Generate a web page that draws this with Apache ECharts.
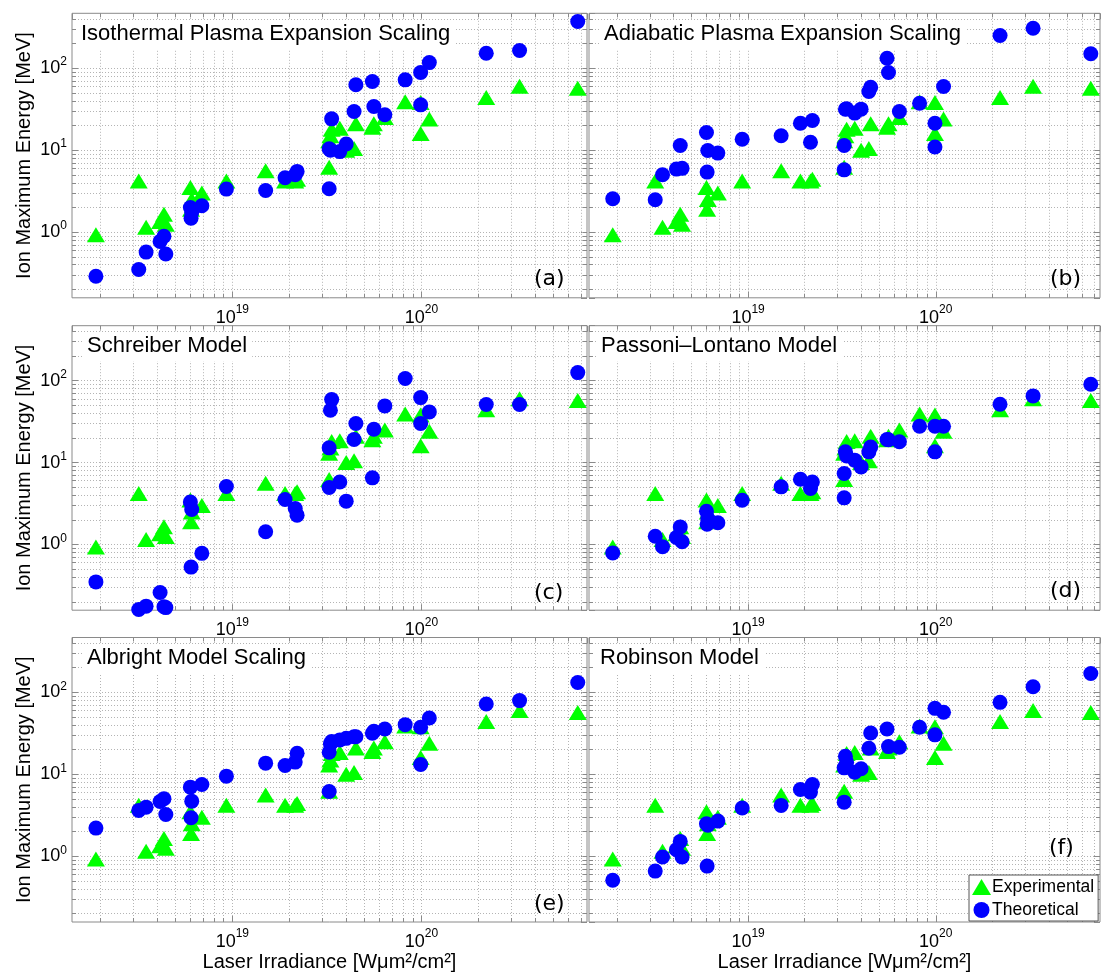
<!DOCTYPE html>
<html><head><meta charset="utf-8">
<script src="https://cdn.jsdelivr.net/npm/echarts@6/dist/echarts.min.js"></script>
<style>html,body{margin:0;padding:0;background:#fff}#c{width:1104px;height:977px}</style>
</head><body><div id="c"></div>
<script>
// ---- data ----
const irradiance = [1.9e18, 3.2e18, 3.5e18, 4.15e18, 4.35e18, 4.45e18, 6.0e18, 6.1e18, 6.05e18, 6.9e18,
  9.3e18, 1.5e19, 1.9e19, 2.15e19, 2.2e19, 3.25e19, 3.25e19, 3.3e19, 3.35e19, 3.7e19,
  4.0e19, 4.4e19, 4.5e19, 5.5e19, 5.6e19, 6.4e19, 8.2e19, 9.9e19, 9.9e19, 1.1e20,
  2.2e20, 3.3e20, 6.7e20];
const experimental = [0.93, 4.2, 1.15, 1.35, 1.65, 1.25, 3.5, 2.5, 1.9, 3.0,
  4.2, 5.6, 4.2, 4.2, 4.4, 6.2, 13, 15, 18, 18.5,
  10, 10.5, 21, 19, 21, 25, 39, 38, 16, 24,
  44, 60, 57];
const isothermal = [0.29, 0.35, 0.57, 0.77, 0.89, 0.54, 2.0, 1.75, 1.48, 2.1,
  3.35, 3.22, 4.6, 5.0, 5.5, 3.38, 10.4, 10.0, 24.1, 9.6,
  11.9, 29.6, 62.7, 68.8, 34.1, 27, 72, 88.5, 35.7, 117,
  152, 164, 371];
const adiabatic = [2.55, 2.48, 5.0, 5.87, 11.4, 6.0, 16.4, 9.9, 5.4, 9.2,
  13.6, 15.0, 21.3, 12.5, 23, 5.75, 11.4, 31.5, 31.9, 28.3,
  31.6, 51.9, 58.6, 132, 88.5, 29.6, 37.4, 21.3, 10.9, 59.7,
  250, 307, 150];
const schreiber = [0.35, 0.161, 0.177, 0.26, 0.174, 0.17, 3.3, 2.67, 0.53, 0.78,
  5.1, 1.43, 3.54, 2.75, 2.28, 4.96, 15.1, 43.5, 58.6, 5.8,
  3.38, 19.1, 29.9, 6.5, 25.5, 49.1, 106, 62, 29.9, 41.5,
  51, 51, 125];
const passoniLontano = [0.79, 1.26, 0.94, 1.22, 1.64, 1.08, 2.55, 2.07, 1.77, 1.84,
  3.47, 5.05, 6.26, 4.82, 5.8, 3.71, 7.34, 13.5, 12, 10.7,
  8.85, 13.5, 15.5, 19.1, 19, 17.9, 27.7, 27.7, 13.5, 27.7,
  51.4, 65, 90];
const albright = [2.21, 3.63, 3.98, 4.67, 5.03, 3.24, 6.98, 4.71, 2.96, 7.52,
  9.5, 13.7, 12.8, 14.1, 18.1, 6.18, 18.6, 23.5, 25.1, 26.3,
  27.5, 28.8, 28.8, 31.7, 33.5, 35.8, 40.4, 37.5, 13.2, 48.7,
  72.1, 79.3, 132];
const robinson = [0.51, 0.66, 0.98, 1.2, 1.52, 0.98, 2.5, 2.4, 0.76, 2.69,
  3.88, 4.18, 6.54, 6.07, 7.52, 4.58, 12, 16.6, 14, 10.6,
  11.7, 20.8, 32, 35.8, 21.8, 21.4, 37.5, 63.8, 30.3, 57.1,
  75.5, 117, 170];
const panelTitles = ['Isothermal Plasma Expansion Scaling', 'Adiabatic Plasma Expansion Scaling',
  'Schreiber Model', 'Passoni\u2013Lontano Model', 'Albright Model Scaling', 'Robinson Model'];
const panelLetters = ['(a)', '(b)', '(c)', '(d)', '(e)', '(f)'];
const theoretical = [isothermal, adiabatic, schreiber, passoniLontano, albright, robinson];
const seriesNames = ['Experimental', 'Theoretical'];
const xAxisTitle = 'Laser Irradiance [W\u03bcm\u00b2/cm\u00b2]';
const yAxisTitle = 'Ion Maximum Energy [MeV]';

// ---- layout ----
const xMin = 1.42e18, xMax = 7.5e20, yMin = 0.158, yMax = 467;
const gridLeft = [72, 589], gridWidth = [515, 511], gridTop = [13.3, 325.7, 637.5], gridHeight = 284.5;
const titlePos = [[76, 20], [599, 20], [82, 332], [596, 332], [82, 644], [595, 644]];
const letterPos = [[534, 268], [1050, 268], [534, 582], [1050, 580], [534, 893], [1049, 837]];

const FONT = 'Liberation Sans';
const GRIDC = '#b4b4b4', AXC = '#8a8a8a';

function powLabel(v) {
  const l = Math.log10(v), e = Math.round(l);
  if (Math.abs(l - e) > 1e-6) return '';
  return '{b|10}{s|' + e + '}';
}
const richX = {
  b: { fontSize: 18, lineHeight: 28, fontFamily: FONT, color: '#000' },
  s: { fontSize: 12, lineHeight: 13, fontFamily: FONT, color: '#000', verticalAlign: 'top' }
};
const richY = {
  b: { fontSize: 18, lineHeight: 24, fontFamily: FONT, color: '#000' },
  s: { fontSize: 12, lineHeight: 13, fontFamily: FONT, color: '#000', verticalAlign: 'top' }
};

// grid-line / minor-tick positions (1..9 per decade)
const xGrid = [], yGrid = [];
for (let e = 18; e <= 20; e++) for (let m = 1; m <= 9; m++) { const v = m * Math.pow(10, e); if (v > xMin * 1.01 && v < xMax * 0.99) xGrid.push(v); }
for (let e = -1; e <= 2; e++) for (let m = 1; m <= 9; m++) { const v = m * Math.pow(10, e); if (v > yMin * 1.01 && v < yMax * 0.99) yGrid.push(v); }
// minor tick length expressed as a factor along each log axis (~4 px)
const fy = Math.pow(10, 4 / 82), fx = Math.pow(10, 4 / 189);
const minorTicks = [];
xGrid.forEach(v => {
  minorTicks.push([{ coord: [v, yMin] }, { coord: [v, yMin * fy] }]);
  minorTicks.push([{ coord: [v, yMax] }, { coord: [v, yMax / fy] }]);
});
yGrid.forEach(v => {
  minorTicks.push([{ coord: [xMin, v] }, { coord: [xMin * fx, v] }]);
  minorTicks.push([{ coord: [xMax, v] }, { coord: [xMax / fx, v] }]);
});

const grids = [], xAxes = [], yAxes = [], series = [], titles = [];
for (let p = 0; p < 6; p++) {
  const row = Math.floor(p / 2), col = p % 2;
  grids.push({ left: gridLeft[col], top: gridTop[row], width: gridWidth[col], height: gridHeight,
    show: true, borderColor: AXC, borderWidth: 1, backgroundColor: 'transparent' });
  const tickBase = { show: true, inside: true, length: 6, lineStyle: { color: AXC } };
  xAxes.push({ type: 'log', logBase: 10, gridIndex: p, min: xMin, max: xMax, position: 'bottom',
    axisLine: { show: false }, axisTick: tickBase, splitLine: { show: false },
    axisLabel: { formatter: powLabel, rich: richX, margin: 6, showMinLabel: false, showMaxLabel: false },
    name: row === 2 ? xAxisTitle : '', nameLocation: 'middle', nameGap: 30,
    nameTextStyle: { fontSize: 20, fontFamily: FONT, color: '#000' } });
  xAxes.push({ type: 'log', logBase: 10, gridIndex: p, min: xMin, max: xMax, position: 'top',
    axisLine: { show: false }, axisTick: tickBase, splitLine: { show: false }, axisLabel: { show: false } });
  yAxes.push({ type: 'log', logBase: 10, gridIndex: p, min: yMin, max: yMax, position: 'left',
    axisLine: { show: false }, axisTick: tickBase, splitLine: { show: false },
    axisLabel: { show: col === 0, formatter: powLabel, rich: richY, margin: 5, showMinLabel: false, showMaxLabel: false },
    name: col === 0 ? yAxisTitle : '', nameLocation: 'middle', nameGap: 38, nameRotate: 90,
    nameTextStyle: { fontSize: 20, fontFamily: FONT, color: '#000' } });
  yAxes.push({ type: 'log', logBase: 10, gridIndex: p, min: yMin, max: yMax, position: 'right',
    axisLine: { show: false }, axisTick: tickBase, splitLine: { show: false }, axisLabel: { show: false } });

  series.push({ type: 'line', xAxisIndex: 2 * p, yAxisIndex: 2 * p, data: [], silent: true, z: 1,
    markLine: { silent: true, z: 1, animation: false, symbol: ['none', 'none'], label: { show: false },
      lineStyle: { color: GRIDC, type: [1, 2], width: 1 },
      emphasis: { disabled: true },
      data: xGrid.map(v => ({ xAxis: v })).concat(yGrid.map(v => ({ yAxis: v }))) } });
  series.push({ type: 'line', xAxisIndex: 2 * p, yAxisIndex: 2 * p, data: [], silent: true, z: 2,
    markLine: { silent: true, z: 2, animation: false, symbol: ['none', 'none'], label: { show: false },
      lineStyle: { color: AXC, type: 'solid', width: 1 },
      emphasis: { disabled: true }, data: minorTicks } });
  series.push({ type: 'scatter', name: seriesNames[0], xAxisIndex: 2 * p, yAxisIndex: 2 * p, z: 3,
    symbol: 'triangle', symbolSize: [18, 15], itemStyle: { color: '#00ff00', opacity: 1 },
    data: irradiance.map((x, i) => [x, experimental[i]]) });
  series.push({ type: 'scatter', name: seriesNames[1], xAxisIndex: 2 * p, yAxisIndex: 2 * p, z: 4,
    symbol: 'circle', symbolSize: 15, itemStyle: { color: '#0000ff', opacity: 1 },
    data: irradiance.map((x, i) => [x, theoretical[p][i]]) });

  titles.push({ text: panelTitles[p], left: titlePos[p][0], top: titlePos[p][1], padding: [3, 5, 4, 5],
    backgroundColor: '#fff', textStyle: { fontSize: 22, fontWeight: 'normal', fontFamily: FONT, color: '#000' } });
  titles.push({ text: panelLetters[p], left: letterPos[p][0], top: letterPos[p][1], padding: 0,
    textStyle: { fontSize: 22, fontWeight: 'normal', fontFamily: 'DejaVu Sans', color: '#000' } });
}

const chart = echarts.init(document.getElementById('c'), null, { renderer: 'canvas' });
chart.setOption({
  animation: false,
  backgroundColor: '#fff',
  title: titles,
  grid: grids, xAxis: xAxes, yAxis: yAxes, series: series,
  legend: { data: [{ name: seriesNames[0], icon: 'triangle' }, { name: seriesNames[1], icon: 'circle' }],
    orient: 'vertical', left: 969, top: 875, itemWidth: 19, itemHeight: 16, itemGap: 5,
    padding: [3, 4, 2, 3], borderColor: '#555', borderWidth: 1, backgroundColor: '#fff', selectedMode: false,
    textStyle: { fontSize: 17.5, fontFamily: FONT, color: '#000', padding: [0, 0, 0, -4] } }
});
</script></body></html>
